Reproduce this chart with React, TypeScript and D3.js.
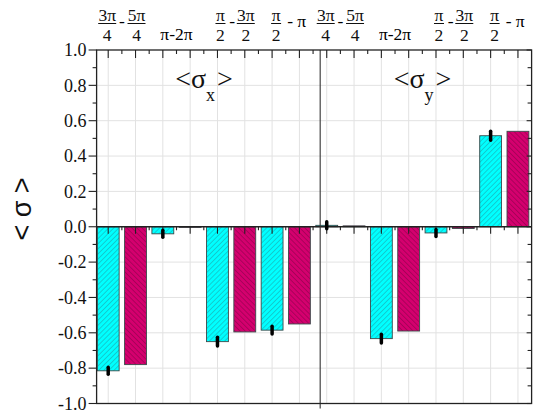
import React from "react";
import * as d3 from "d3";

const W = 533;
const H = 414;
const plot = { left: 96.6, right: 531.6, top: 50, bottom: 403.5 };

// pairs of angles, each pair has a cyan and a magenta bar, for <σx> and <σy>
const pairNames = ["3π/4 - 5π/4", "π - 2π", "π/2 - 3π/2", "π/2 - π"];
const components = ["x", "y"];
const cyanX = [-0.815, -0.04, -0.65, -0.585];
const magentaX = [-0.78, 0, -0.595, -0.55];
const cyanY = [0.008, -0.633, -0.035, 0.515];
const magentaY = [0.005, -0.59, -0.01, 0.54];
const cyanErrX = [0.02, 0.02, 0.025, 0.022];
const cyanErrY = [0.02, 0.025, 0.02, 0.025];
const yTickValues = [1.0, 0.8, 0.6, 0.4, 0.2, 0.0, -0.2, -0.4, -0.6, -0.8, -1.0];

const CYAN = "#00ffff";
const MAGENTA = "#d4006e";
const SERIF = "Liberation Serif, Times New Roman, serif";
const LABEL_SIZE = 17.5;

type Bar = { pos: number; value: number; err: number | null; series: 0 | 1 };

function buildBars(): Bar[] {
  const out: Bar[] = [];
  const sets = [
    [cyanX, magentaX, cyanErrX],
    [cyanY, magentaY, cyanErrY],
  ];
  sets.forEach(([cy, mg, er], c) => {
    pairNames.forEach((_, g) => {
      const p = 1 + c * 8 + g * 2;
      out.push({ pos: p, value: cy[g], err: er[g], series: 0 });
      out.push({ pos: p + 1, value: mg[g], err: null, series: 1 });
    });
  });
  return out;
}

const serif = (size: number) => ({ fontFamily: SERIF, fontSize: size });

const Frac = ({ x, num, den }: { x: number; num: string; den: string }) => {
  const w = num.length > 1 ? 18 : 10;
  return (
    <g textAnchor="middle" fill="#111" style={serif(LABEL_SIZE)}>
      <text x={x} y={21}>{num}</text>
      <line x1={x - w / 2} x2={x + w / 2} y1={23.5} y2={23.5} stroke="#111" strokeWidth={1} />
      <text x={x} y={40.5}>{den}</text>
    </g>
  );
};

export default function App() {
  const x = d3.scaleLinear().domain([0.575, 16.5]).range([plot.left, plot.right]);
  const y = d3.scaleLinear().domain([-1, 1]).range([plot.bottom, plot.top]);
  const bars = buildBars();
  const bw = (x(2) - x(1)) * 0.8;
  const majors = d3.range(1, 17);
  const minors = d3.range(1.5, 16.5, 1);
  const yMinor = d3.range(-10, 11).map((d) => d / 10);
  const divider = x(8.76);

  return (
    <svg width={W} height={H} style={{ position: "absolute", left: 0, top: 0, background: "#fff" }}>
      <defs>
        <pattern id="hatchC" patternUnits="userSpaceOnUse" width={3.6} height={3.6} patternTransform="rotate(45)">
          <rect width={3.6} height={3.6} fill={CYAN} />
          <line x1={0} y1={0} x2={0} y2={3.6} stroke="#2b6f78" strokeWidth={0.8} opacity={0.85} />
        </pattern>
        <pattern id="hatchM" patternUnits="userSpaceOnUse" width={3.6} height={3.6} patternTransform="rotate(-45)">
          <rect width={3.6} height={3.6} fill={MAGENTA} />
          <line x1={0} y1={0} x2={0} y2={3.6} stroke="#5a0530" strokeWidth={0.8} opacity={0.85} />
        </pattern>
      </defs>

      {/* grid */}
      {majors.map((d) => (
        <line key={"gv" + d} x1={x(d)} x2={x(d)} y1={plot.top} y2={plot.bottom} stroke="#e2e2e2" />
      ))}
      {yTickValues.filter((d) => d !== 0 && Math.abs(d) !== 1).map((d) => (
        <line key={"gh" + d} x1={plot.left} x2={plot.right} y1={y(d)} y2={y(d)} stroke="#e2e2e2" />
      ))}

      {/* bars */}
      {bars.map((b) => {
        const y0 = y(Math.max(0, b.value));
        const h = Math.abs(y(b.value) - y(0));
        return (
          <rect
            key={"b" + b.pos}
            x={x(b.pos) - bw / 2}
            y={y0}
            width={bw}
            height={Math.max(h, 0.6)}
            fill={b.series === 0 ? "url(#hatchC)" : "url(#hatchM)"}
            stroke="#3a4a4a"
            strokeWidth={0.9}
          />
        );
      })}

      {/* zero axis */}
      <line x1={plot.left} x2={plot.right} y1={y(0)} y2={y(0)} stroke="#222" strokeWidth={1.3} />
      {majors.map((d) => (
        <line key={"zt" + d} x1={x(d)} x2={x(d)} y1={y(0)} y2={y(0) + 7} stroke="#222" strokeWidth={1.1} />
      ))}
      {minors.map((d) => (
        <line key={"zm" + d} x1={x(d)} x2={x(d)} y1={y(0)} y2={y(0) + 3.5} stroke="#222" strokeWidth={1.1} />
      ))}

      {/* error bars */}
      {bars
        .filter((b) => b.err !== null)
        .map((b) => (
          <line
            key={"e" + b.pos}
            x1={x(b.pos)}
            x2={x(b.pos)}
            y1={y(b.value - (b.err as number))}
            y2={y(b.value + (b.err as number))}
            stroke="#000"
            strokeWidth={3.5}
            strokeLinecap="round"
          />
        ))}

      {/* divider between components */}
      <line x1={divider} x2={divider} y1={plot.top} y2={plot.bottom + 5} stroke="#333" strokeWidth={1.1} />

      {/* frame */}
      <rect
        x={plot.left}
        y={plot.top}
        width={plot.right - plot.left}
        height={plot.bottom - plot.top}
        fill="none"
        stroke="#222"
        strokeWidth={1.3}
      />

      {/* top ticks */}
      {majors.map((d) => (
        <line key={"tt" + d} x1={x(d)} x2={x(d)} y1={plot.top} y2={plot.top + 8} stroke="#222" strokeWidth={1.1} />
      ))}
      {minors.map((d) => (
        <line key={"tm" + d} x1={x(d)} x2={x(d)} y1={plot.top} y2={plot.top + 4} stroke="#222" strokeWidth={1.1} />
      ))}

      {/* left ticks outward, right ticks inward */}
      {yMinor.map((d, i) => {
        const major = i % 2 === 0;
        return (
          <g key={"yt" + i}>
            <line x1={plot.left - (major ? 8 : 4)} x2={plot.left} y1={y(d)} y2={y(d)} stroke="#222" strokeWidth={1.1} />
            <line x1={plot.right - (major ? 5 : 4)} x2={plot.right} y1={y(d)} y2={y(d)} stroke="#222" strokeWidth={1.1} />
          </g>
        );
      })}

      {/* y tick labels */}
      {yTickValues.map((d) => (
        <text
          key={"yl" + d}
          x={plot.left - 10}
          y={y(d)}
          dy="0.35em"
          textAnchor="end"
          fill="#111"
          style={serif(18)}
        >
          {d.toFixed(1)}
        </text>
      ))}

      {/* y axis title */}
      <text
        transform={`translate(31, 209) rotate(-90)`}
        textAnchor="middle"
        fill="#111"
        style={{ fontFamily: "Liberation Sans, Arial, sans-serif", fontSize: 27 }}
      >
        {"< σ >"}
      </text>

      {/* component labels */}
      {components.map((c, i) => (
        <text key={"c" + c} x={x(3.45 + i * 8)} y={88} fill="#111" style={serif(28)}>
          {"<σ"}
          <tspan dy={13} style={{ fontSize: 18 }}>{c}</tspan>
          <tspan dy={-13} dx={2}>{">"}</tspan>
        </text>
      ))}

      {/* top angle-pair labels */}
      {components.map((c, i) => {
        const b = 1 + i * 8;
        return (
          <g key={"tl" + c}>
            <Frac x={x(b) - 1} num="3π" den="4" />
            <text x={x(b + 0.5)} y={27} textAnchor="middle" style={serif(LABEL_SIZE)}>-</text>
            <Frac x={x(b + 1) + 1} num="5π" den="4" />
            <text x={x(b + 2.5)} y={40} textAnchor="middle" style={serif(LABEL_SIZE)}>π-2π</text>
            <Frac x={x(b + 4) + 3} num="π" den="2" />
            <text x={x(b + 4.5) + 1} y={27} textAnchor="middle" style={serif(LABEL_SIZE)}>-</text>
            <Frac x={x(b + 5) + 1} num="3π" den="2" />
            <Frac x={x(b + 6) + 4} num="π" den="2" />
            <text x={x(b + 6.55)} y={27} style={serif(LABEL_SIZE)}>- π</text>
          </g>
        );
      })}
    </svg>
  );
}
